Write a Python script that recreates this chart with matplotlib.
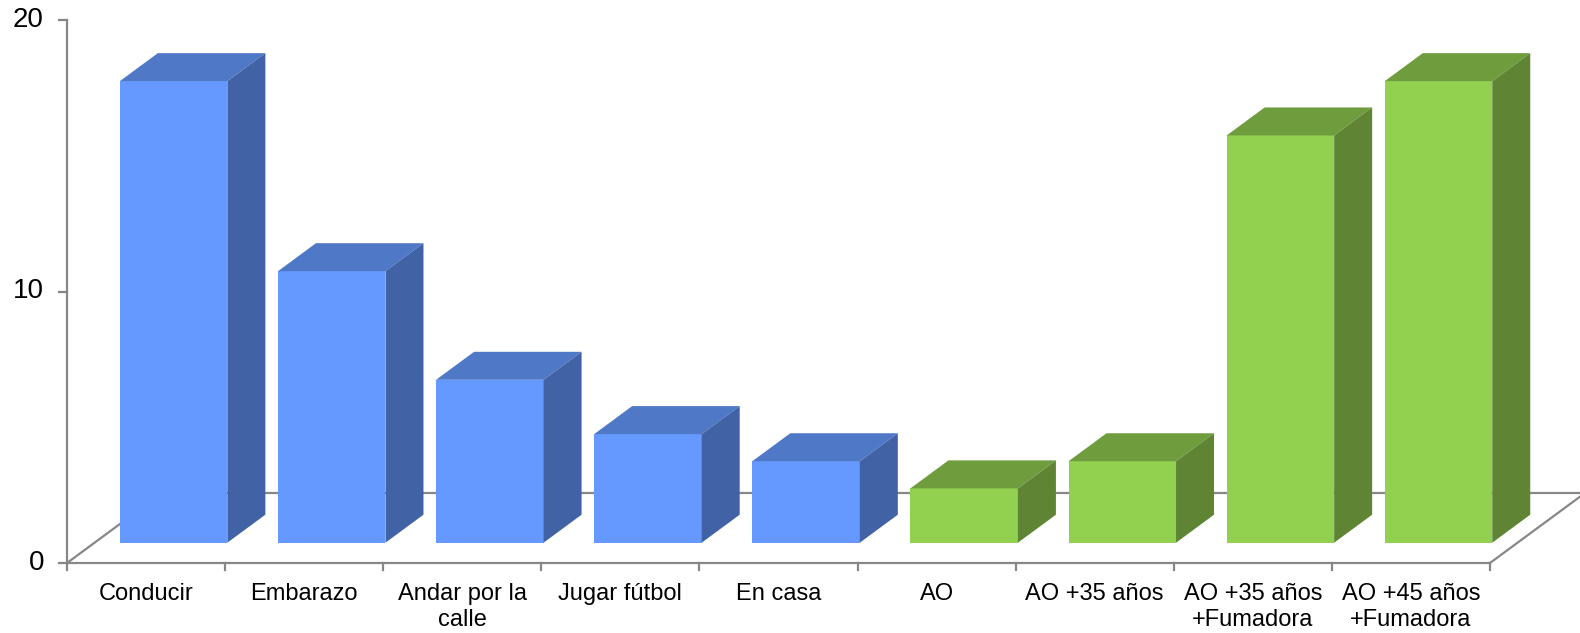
import matplotlib.pyplot as plt
from matplotlib.patches import Polygon

plt.rcParams['font.family'] = ['Liberation Sans', 'DejaVu Sans']

categories = ['Conducir', 'Embarazo', 'Andar por la\ncalle', 'Jugar fútbol', 'En casa',
              'AO', 'AO +35 años', 'AO +35 años\n+Fumadora', 'AO +45 años\n+Fumadora']
values = [17, 10, 6, 4, 3, 2, 3, 15, 17]
groups = ['riesgo', 'riesgo', 'riesgo', 'riesgo', 'riesgo', 'ao', 'ao', 'ao', 'ao']
yticks = [0, 10, 20]

# front / top / side colours per group
colors = {
    'riesgo': ('#6699FF', '#4F78C6', '#4163A6'),
    'ao': ('#92D050', '#6F9D3D', '#5E8434'),
}
axis_color = '#878787'

W, H = 1580, 633
fig = plt.figure(figsize=(W / 100, H / 100), dpi=100)
ax = fig.add_axes([0, 0, 1, 1])
ax.axis('off')

# pixel layout of the front plane
x_left, x_right = 67, 1490
y_zero, y_top = 563, 20
ux = (x_right - x_left) / len(categories)
uy = (y_zero - y_top) / yticks[-1]
ax.set_xlim(-x_left / ux, (W - x_left) / ux)
ax.set_ylim(-(H - y_zero) / uy, y_zero / uy)

# oblique depth of the floor
depth_x = 95 / ux
depth_y = 70 / uy
f_front, f_back = 0.29, 0.69
bar_w = 0.68
n = len(categories)

# floor and axes
lw = 1.6
ax.plot([0, n], [0, 0], color=axis_color, lw=lw, zorder=1)
ax.plot([0, depth_x], [0, depth_y], color=axis_color, lw=lw, zorder=1)
ax.plot([n, n + depth_x], [0, depth_y], color=axis_color, lw=lw, zorder=1)
ax.plot([depth_x, n + depth_x], [depth_y, depth_y], color=axis_color, lw=lw, zorder=1)
ax.plot([0, 0], [0, yticks[-1]], color=axis_color, lw=lw, zorder=1)
for t in yticks:
    ax.plot([-8 / ux, 0], [t, t], color=axis_color, lw=lw, zorder=1)
    ax.text(-23 / ux, t, str(t), ha='right', va='center', fontsize=20)
for k in range(n + 1):
    ax.plot([k, k], [0, -7 / uy], color=axis_color, lw=lw, zorder=1)

# bars
ddx = (f_back - f_front) * depth_x
ddy = (f_back - f_front) * depth_y
for i, (v, g) in enumerate(zip(values, groups)):
    front, top, side = colors[g]
    left = i + 0.5 - bar_w / 2 + f_front * depth_x
    base = f_front * depth_y
    ax.bar(left, v, width=bar_w, bottom=base, align='edge', color=front,
           edgecolor='none', zorder=3)
    ax.add_patch(Polygon([(left, base + v), (left + bar_w, base + v),
                          (left + bar_w + ddx, base + v + ddy), (left + ddx, base + v + ddy)],
                         closed=True, facecolor=top, edgecolor='none', zorder=3))
    ax.add_patch(Polygon([(left + bar_w, base), (left + bar_w + ddx, base + ddy),
                          (left + bar_w + ddx, base + v + ddy), (left + bar_w, base + v)],
                         closed=True, facecolor=side, edgecolor='none', zorder=3))

for i, c in enumerate(categories):
    ax.text(i + 0.5, -20 / uy, c, ha='center', va='top', fontsize=17, linespacing=1.22)

fig.savefig('out.png', dpi=100)
